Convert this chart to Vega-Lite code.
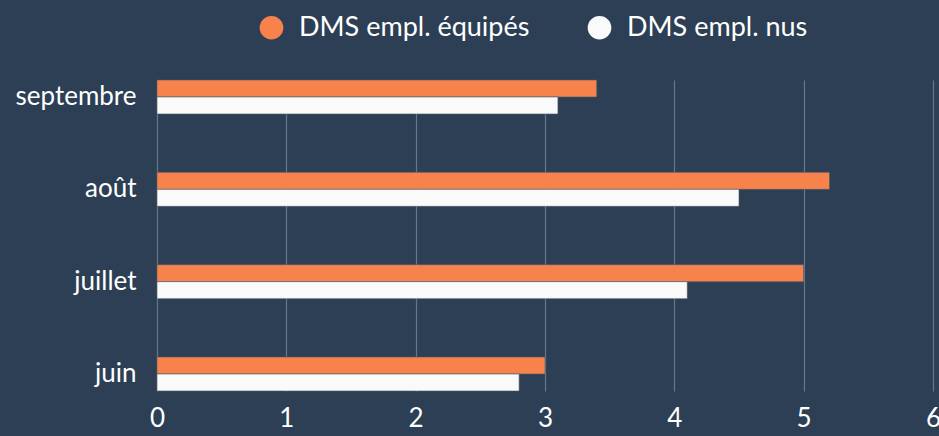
{
  "$schema": "https://vega.github.io/schema/vega-lite/v6.json",
  "width": 776,
  "height": 311,
  "autosize": {"type": "none"},
  "padding": {"left": 157, "top": 80, "right": 6, "bottom": 45},
  "background": "#2c3f55",
  "data": {
    "values": [
      {"mois": "septembre", "serie": "DMS empl. équipés", "valeur": 3.4},
      {"mois": "septembre", "serie": "DMS empl. nus", "valeur": 3.1},
      {"mois": "août", "serie": "DMS empl. équipés", "valeur": 5.2},
      {"mois": "août", "serie": "DMS empl. nus", "valeur": 4.5},
      {"mois": "juillet", "serie": "DMS empl. équipés", "valeur": 5.0},
      {"mois": "juillet", "serie": "DMS empl. nus", "valeur": 4.1},
      {"mois": "juin", "serie": "DMS empl. équipés", "valeur": 3.0},
      {"mois": "juin", "serie": "DMS empl. nus", "valeur": 2.8}
    ]
  },
  "mark": {"type": "bar", "stroke": "#4a5a6a", "strokeWidth": 0.6},
  "encoding": {
    "y": {
      "field": "mois",
      "type": "nominal",
      "sort": ["septembre", "août", "juillet", "juin"],
      "scale": {"paddingInner": 0.632, "paddingOuter": 0},
      "axis": {
        "title": null,
        "ticks": false,
        "domain": false,
        "labelFontSize": 26,
        "labelColor": "#ffffff",
        "labelFont": "Lato",
        "labelPadding": 21
      }
    },
    "yOffset": {
      "field": "serie",
      "type": "nominal",
      "sort": ["DMS empl. équipés", "DMS empl. nus"]
    },
    "x": {
      "field": "valeur",
      "type": "quantitative",
      "scale": {"domain": [0, 6], "nice": false},
      "axis": {
        "title": null,
        "values": [0, 1, 2, 3, 4, 5, 6],
        "labelOverlap": false,
        "ticks": false,
        "domain": false,
        "grid": true,
        "gridColor": "#647889",
        "gridWidth": 1.2,
        "labelFontSize": 26,
        "labelColor": "#ffffff",
        "labelFont": "Lato",
        "labelPadding": 14,
        "labelFlush": false
      }
    },
    "color": {
      "field": "serie",
      "type": "nominal",
      "sort": ["DMS empl. équipés", "DMS empl. nus"],
      "scale": {"domain": ["DMS empl. équipés", "DMS empl. nus"], "range": ["#f8824b", "#fafafa"]},
      "legend": {
        "title": null,
        "orient": "none",
        "legendX": 101,
        "legendY": -66,
        "direction": "horizontal",
        "symbolType": "circle",
        "symbolSize": 560,
        "symbolStrokeWidth": 0,
        "labelFontSize": 27,
        "labelColor": "#ffffff",
        "labelFont": "Lato",
        "labelOffset": 14,
        "columnPadding": 56,
        "labelLimit": 400
      }
    }
  },
  "config": {
    "view": {"stroke": null},
    "font": "Lato"
  }
}
